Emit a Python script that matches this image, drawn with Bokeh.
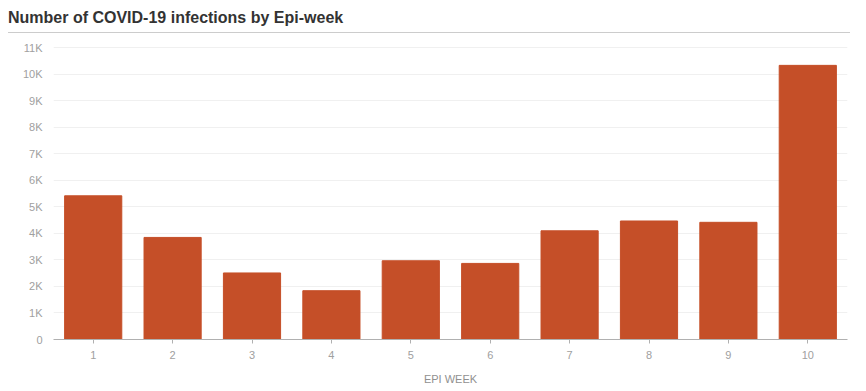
from bokeh.plotting import figure
from bokeh.models import FactorRange, Range1d, FixedTicker, Div
from bokeh.layouts import column
from bokeh.embed import file_html
from bokeh.resources import INLINE

weeks = ["1", "2", "3", "4", "5", "6", "7", "8", "9", "10"]
infections = [5420, 3850, 2510, 1840, 2970, 2870, 4100, 4470, 4420, 10340]
y_ticks = [0, 1000, 2000, 3000, 4000, 5000, 6000, 7000, 8000, 9000, 10000, 11000]
y_tick_labels = ["0", "1K", "2K", "3K", "4K", "5K", "6K", "7K", "8K", "9K", "10K", "11K"]

FONT = "Liberation Sans"

title = Div(
    text="Number of COVID-19 infections by Epi-week",
    width=842, height=33, margin=(0, 0, 0, 8),
    styles={
        "font-family": FONT,
        "font-size": "16px",
        "font-weight": "bold",
        "color": "#333333",
        "border-bottom": "1px solid #cccccc",
        "box-sizing": "border-box",
        "padding-top": "8px",
        "line-height": "19px",
    },
)

p = figure(
    width=858, height=354,
    x_range=FactorRange(*weeks, range_padding=0),
    y_range=Range1d(0, 11240),
    output_backend="svg", toolbar_location=None,
    min_border_left=53, min_border_right=11,
    min_border_top=8, min_border_bottom=48,
)
p.outline_line_color = None
p.background_fill_color = "white"
p.border_fill_color = "white"

p.vbar(x=weeks, top=infections, width=0.72, fill_color="#c54f28", line_color="#c54f28")

p.xgrid.grid_line_color = None
p.ygrid.grid_line_color = "#f0f0f0"
p.ygrid.ticker = FixedTicker(ticks=y_ticks)

p.yaxis.ticker = FixedTicker(ticks=y_ticks)
p.yaxis.major_label_overrides = {t: l for t, l in zip(y_ticks, y_tick_labels)}
p.yaxis.axis_line_color = None
p.yaxis.major_tick_line_color = None
p.yaxis.minor_tick_line_color = None
p.yaxis.major_label_standoff = 5
p.yaxis.major_label_text_font = FONT
p.yaxis.major_label_text_font_size = "11px"
p.yaxis.major_label_text_color = "#a0a0a0"

p.xaxis.axis_line_color = "#b0b0b0"
p.xaxis.major_tick_line_color = "#b0b0b0"
p.xaxis.major_tick_out = 4
p.xaxis.major_tick_in = 0
p.xaxis.major_label_standoff = 7
p.xaxis.major_label_text_font = FONT
p.xaxis.major_label_text_font_size = "11px"
p.xaxis.major_label_text_color = "#a0a0a0"
p.xaxis.axis_label = "EPI WEEK"
p.xaxis.axis_label_text_font = FONT
p.xaxis.axis_label_text_font_size = "11px"
p.xaxis.axis_label_text_font_style = "normal"
p.xaxis.axis_label_text_color = "#909090"
p.xaxis.axis_label_standoff = 11

layout = column(title, p, spacing=0)
open("out.html", "w").write(file_html(layout, INLINE))
